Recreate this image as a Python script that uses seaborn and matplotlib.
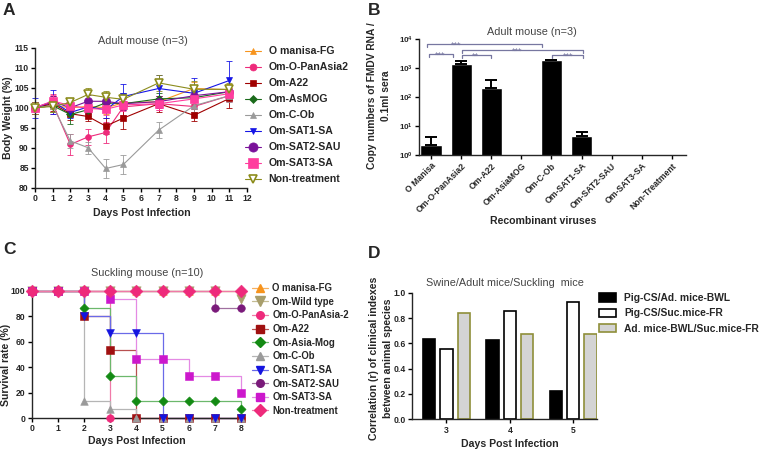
import numpy as np
import pandas as pd
import matplotlib
matplotlib.use("Agg")
import matplotlib.pyplot as plt
import seaborn as sns
from matplotlib.lines import Line2D
from matplotlib.patches import Patch
from matplotlib.ticker import NullLocator, FixedLocator, FixedFormatter

# ---------------- Panel A data (body weight, adult mouse) ----------------
days_a = [0, 1, 2, 3, 4, 5, 7, 9, 11]
a_labels = ["O manisa-FG", "Om-O-PanAsia2", "Om-A22", "Om-AsMOG", "Om-C-Ob",
            "Om-SAT1-SA", "Om-SAT2-SAU", "Om-SAT3-SA", "Non-treatment"]
a_omanisa = [100, 100.5, 100, 100.3, 100, 101.2, 101.5, 104.8, 104.5]
a_panasia = [100, 101, 90.8, 92.7, 93.8, 100.2, 101, 100.3, 103]
a_a22 = [100, 101, 98.5, 97.8, 95.4, 97.4, 101, 98.1, 102.3]
a_asmog = [100, 100.5, 98.3, 99.5, 101.2, 101, 102.2, 102.5, 104]
a_cob = [100, 100.5, 91.7, 90.0, 84.8, 85.8, 94.4, 100.5, 103]
a_sat1 = [100, 101.5, 98.8, 100.2, 99.5, 102.8, 104.8, 103.6, 106.8]
a_sat2 = [100, 101.5, 100, 101.6, 101.6, 101, 101.5, 103, 104]
a_sat3 = [100, 101.7, 100.5, 99.8, 99.6, 100.7, 101, 102.2, 103.5]
a_nontreat = [100, 100.3, 101.3, 103.3, 102.6, 102.1, 106.2, 104.6, 104.6]

a_omanisa_err = [1.5, 1.5, 1.5, 1.5, 1.5, 1.5, 1.5, 1.5, 1.5]
a_panasia_err = [1.5, 2.5, 2.7, 2.0, 2.6, 2.0, 1.5, 1.5, 1.5]
a_a22_err = [1.5, 1.8, 1.5, 1.2, 2.0, 2.8, 2.0, 1.5, 2.5]
a_asmog_err = [1.5, 1.5, 2.5, 1.5, 1.5, 1.5, 1.5, 1.5, 1.5]
a_cob_err = [1.5, 1.5, 1.8, 1.5, 2.3, 2.4, 2.1, 1.5, 1.5]
a_sat1_err = [2.5, 3.0, 1.5, 1.5, 2.0, 3.2, 3.3, 3.8, 4.8]
a_sat2_err = [1.5, 1.5, 1.5, 1.5, 1.5, 1.5, 1.5, 1.5, 1.5]
a_sat3_err = [1.5, 1.5, 1.5, 1.5, 1.5, 1.5, 1.5, 1.5, 1.5]
a_nontreat_err = [1.5, 1.5, 1.2, 1.5, 1.5, 1.5, 2.0, 2.0, 1.5]

# ---------------- Panel B data (FMDV RNA copies) ----------------
b_cats = ["O Manisa", "Om-O-PanAsia2", "Om-A22", "Om-AsiaMOG", "Om-C-Ob",
          "Om-SAT1-SA", "Om-SAT2-SAU", "Om-SAT3-SA", "Non-Treatment"]
b_vals = [2.2, 1410, 208, 0, 1940, 4.4, 0, 0, 0]
b_errs = [2.1, 330, 175, 0, 60, 2.0, 0, 0, 0]
b_tick_labels = ["$\\mathbf{10^{0}}$", "$\\mathbf{10^{1}}$", "$\\mathbf{10^{2}}$",
                 "$\\mathbf{10^{3}}$", "$\\mathbf{10^{4}}$"]
# significance brackets: (x1, x2, log10 line, log10 end, text x, label)
b_brackets = [(-0.14, 3.68, 3.841, 3.727, 0.83, "***"),
              (1.02, 5.06, 3.633, 3.519, 2.85, "***"),
              (-0.07, 0.72, 3.484, 3.381, 0.30, "***"),
              (1.02, 1.99, 3.460, 3.346, 1.46, "**"),
              (4.01, 5.06, 3.460, 3.346, 4.56, "***")]

# ---------------- Panel C data (survival, suckling mouse) ----------------
days_c = [0, 1, 2, 3, 4, 5, 6, 7, 8]
c_labels = ["O manisa-FG", "Om-Wild type", "Om-O-PanAsia-2", "Om-A22", "Om-Asia-Mog",
            "Om-C-Ob", "Om-SAT1-SA", "Om-SAT2-SAU", "Om-SAT3-SA", "Non-treatment"]
c_omanisa = [100, 100, 100, 100, 100, 100, 100, 100, 100]
c_wild = [100, 100, 100, 100, 100, 100, 100, 100, 93.3]
c_panasia = [100, 100, 100, 0, 0, 0, 0, 0, 0]
c_a22 = [100, 100, 80, 53.3, 0, 0, 0, 0, 0]
c_asiamog = [100, 100, 86.7, 33.3, 13.3, 13.3, 13.3, 13.3, 6.7]
c_cob = [100, 100, 13.3, 6.7, 0, 0, 0, 0, 0]
c_sat1 = [100, 100, 80, 66.7, 66.7, 0, 0, 0, 0]
c_sat2 = [100, 100, 100, 100, 100, 100, 100, 86.7, 86.7]
c_sat3 = [100, 100, 100, 93.3, 46.7, 46.7, 33.3, 33.3, 20]
c_nontreat = [100, 100, 100, 100, 100, 100, 100, 100, 100]

# ---------------- Panel D data (correlation) ----------------
d_days = ["3", "4", "5"]
d_pairs = ["Pig-CS/Ad. mice-BWL", "Pig-CS/Suc.mice-FR", "Ad. mice-BWL/Suc.mice-FR"]
d_pig_adult = [0.637, 0.624, 0.224]
d_pig_suck = [0.555, 0.853, 0.926]
d_adult_suck = [0.837, 0.676, 0.676]

# ---------------- styling ----------------
sns.set_theme(style="ticks")
plt.rcParams['font.family'] = ['Liberation Sans', 'DejaVu Sans']
plt.rcParams['mathtext.fontset'] = 'custom'
plt.rcParams['mathtext.rm'] = 'Liberation Sans'
plt.rcParams['mathtext.bf'] = 'Liberation Sans:bold'
plt.rcParams['axes.linewidth'] = 1.0
plt.rcParams['xtick.major.width'] = 1.0
plt.rcParams['ytick.major.width'] = 1.0
plt.rcParams['xtick.major.size'] = 3
plt.rcParams['ytick.major.size'] = 3

TICK_FS = 6.2
LAB_FS = 7.6
TITLE_FS = 7.8
TITLE_C = '#444444'

fig = plt.figure(figsize=(7.6, 4.5), dpi=100)


def style_ticks(ax):
    for t in ax.get_xticklabels() + ax.get_yticklabels():
        t.set_fontsize(TICK_FS)
        t.set_fontweight('bold')
    ax.tick_params(axis='both', pad=1.5, length=3, color='black')
    sns.despine(ax=ax)


# ================= Panel A =================
axA = fig.add_axes([0.0461, 0.5829, 0.2789, 0.3111])
a_means = [a_omanisa, a_panasia, a_a22, a_asmog, a_cob, a_sat1, a_sat2, a_sat3, a_nontreat]
a_errs = [a_omanisa_err, a_panasia_err, a_a22_err, a_asmog_err, a_cob_err,
          a_sat1_err, a_sat2_err, a_sat3_err, a_nontreat_err]
a_styles = [('#F7941D', '^', 4.2, True), ('#EE2A7B', 'o', 4.2, True), ('#A00000', 's', 4.0, True),
            ('#1B6B1B', 'D', 3.6, True), ('#9A9A9A', '^', 4.2, True), ('#1515E6', 'v', 4.2, True),
            ('#7A129A', 'o', 5.8, True), ('#FF3D9E', 's', 5.8, True), ('#8C8C1C', 'v', 5.5, False)]
a_handles = []
for lab, mean, err, (col, mk, ms, fill) in zip(a_labels, a_means, a_errs, a_styles):
    axA.errorbar(days_a, mean, yerr=err, fmt='none', ecolor=col, elinewidth=0.7,
                 capsize=2.2, capthick=0.7, alpha=0.85, clip_on=False, zorder=2)
    df = pd.DataFrame({"day": days_a, "weight": mean})
    sns.lineplot(data=df, x="day", y="weight", ax=axA, color=col, marker=mk,
                 markersize=ms, linewidth=0.8, markeredgecolor=col,
                 markerfacecolor=col if fill else 'white',
                 markeredgewidth=1.2 if not fill else 0.5, clip_on=False, zorder=3)
    a_handles.append(Line2D([], [], color=col, marker=mk, markersize=ms + 0.8,
                            markerfacecolor=col if fill else 'white',
                            markeredgecolor=col, markeredgewidth=1.2 if not fill else 0.5,
                            linewidth=0.8))
axA.set_xlim(0, 12)
axA.set_ylim(80, 115)
axA.set_xticks(range(0, 13))
axA.set_yticks(range(80, 116, 5))
axA.set_xlabel("Days Post Infection", fontsize=LAB_FS, fontweight='bold')
axA.set_ylabel("Body Weight (%)", fontsize=LAB_FS, fontweight='bold')
axA.xaxis.set_label_coords(0.503, -0.147)
axA.yaxis.set_label_coords(-0.104, 0.5)
axA.text(0.51, 1.045, "Adult mouse (n=3)", transform=axA.transAxes, ha='center',
         va='center', fontsize=TITLE_FS, color=TITLE_C)
style_ticks(axA)
legA = axA.legend(a_handles, a_labels, loc='upper left', bbox_to_anchor=(0.992, 1.01),
                  frameon=False, fontsize=7.6, handlelength=1.5, handletextpad=0.7,
                  labelspacing=0.57, borderaxespad=0, borderpad=0)
for t in legA.get_texts():
    t.set_fontweight('bold')

# ================= Panel B =================
axB = fig.add_axes([0.5517, 0.6556, 0.3509, 0.2571])
dfB = pd.DataFrame({"virus": b_cats, "copies": b_vals})
sns.barplot(data=dfB, x="virus", y="copies", ax=axB, color='black', saturation=1,
            width=0.7, errorbar=None, order=b_cats)
axB.set_yscale('log')
pos_idx = [i for i, v in enumerate(b_vals) if v > 0]
axB.errorbar([i for i in pos_idx], [b_vals[i] for i in pos_idx],
             yerr=[[0] * len(pos_idx), [b_errs[i] for i in pos_idx]], fmt='none',
             ecolor='black', elinewidth=1.4, capsize=4, capthick=1.4)
axB.set_ylim(1, 1e4)
axB.set_xlim(-0.39, 8.47)
axB.yaxis.set_major_locator(FixedLocator([1, 10, 100, 1000, 10000]))
axB.yaxis.set_major_formatter(FixedFormatter(b_tick_labels))
axB.yaxis.set_minor_locator(NullLocator())
axB.set_xticks(range(len(b_cats)))
axB.set_xticklabels(b_cats, rotation=45, ha='right', rotation_mode='anchor')
style_ticks(axB)
for t in axB.get_yticklabels():
    t.set_fontsize(5.8)
br_col = '#7777A0'
for x1, x2, ly, ey, tx, lab in b_brackets:
    axB.plot([x1, x1, x2, x2], [10 ** ey, 10 ** ly, 10 ** ly, 10 ** ey], color=br_col,
             linewidth=0.9, clip_on=False)
    axB.text(tx, 10 ** (ly - 0.12), lab, ha='center', va='baseline', fontsize=6.5,
             color=br_col, clip_on=False)
axB.set_xlabel("Recombinant viruses", fontsize=LAB_FS, fontweight='bold')
axB.set_ylabel("Copy numbers of FMDV RNA /\n0.1ml sera", fontsize=7.4, fontweight='bold',
               linespacing=1.5)
axB.xaxis.set_label_coords(0.464, -0.527)
axB.yaxis.set_label_coords(-0.106, 0.51)
axB.text(0.421, 1.066, "Adult mouse (n=3)", transform=axB.transAxes, ha='center',
         va='center', fontsize=TITLE_FS, color=TITLE_C)

# ================= Panel C =================
axC = fig.add_axes([0.0417, 0.0711, 0.2754, 0.2829])
c_series = [c_omanisa, c_wild, c_panasia, c_a22, c_asiamog, c_cob, c_sat1, c_sat2,
            c_sat3, c_nontreat]
c_styles = [('#F7941D', '#F7B060', '^', 30), ('#A89E6C', '#C4BC94', 'v', 45),
            ('#EE2A7B', '#F07AA8', 'o', 30), ('#A01010', '#B85050', 's', 30),
            ('#138A13', '#6CB86C', 'D', 22), ('#9A9A9A', '#B5B5B5', '^', 30),
            ('#1414E0', '#6A6AE8', 'v', 32), ('#7A1A7A', '#A070A0', 'o', 30),
            ('#CC18CC', '#E48AE4', 's', 34), ('#EE2A7B', '#F07AA8', 'D', 42)]
c_handles = []
for lab, vals, (mcol, lcol, mk, ms) in zip(c_labels, c_series, c_styles):
    df = pd.DataFrame({"day": days_c, "surv": vals})
    sns.lineplot(data=df, x="day", y="surv", ax=axC, color=lcol, linewidth=0.9,
                 drawstyle='steps-post', clip_on=False, zorder=2)
    sns.scatterplot(data=df, x="day", y="surv", ax=axC, color=mcol, marker=mk, s=ms,
                    edgecolor=mcol, linewidth=0.4, clip_on=False, zorder=3)
    c_handles.append(Line2D([], [], color=lcol, marker=mk, markersize=np.sqrt(ms),
                            markerfacecolor=mcol, markeredgecolor=mcol, linewidth=0.9))
axC.set_xlim(0, 8)
axC.set_ylim(0, 100)
axC.set_xticks(range(0, 9))
axC.set_yticks(range(0, 101, 20))
axC.set_xlabel("Days Post Infection", fontsize=LAB_FS, fontweight='bold')
axC.set_ylabel("Survival rate (%)", fontsize=LAB_FS, fontweight='bold')
axC.xaxis.set_label_coords(0.5, -0.139)
axC.yaxis.set_label_coords(-0.101, 0.42)
axC.text(0.55, 1.141, "Suckling mouse (n=10)", transform=axC.transAxes, ha='center',
         va='center', fontsize=TITLE_FS, color=TITLE_C)
style_ticks(axC)
legC = axC.legend(c_handles, c_labels, loc='upper left', bbox_to_anchor=(1.054, 1.06),
                  frameon=False, fontsize=6.9, handlelength=1.6, handletextpad=0.5,
                  labelspacing=0.38, borderaxespad=0, borderpad=0)
for t in legC.get_texts():
    t.set_fontweight('bold')

# ================= Panel D =================
axD = fig.add_axes([0.5417, 0.0682, 0.2442, 0.2813])
dfD = pd.DataFrame({
    "day": d_days * 3,
    "r": d_pig_adult + d_pig_suck + d_adult_suck,
    "pair": [d_pairs[0]] * 3 + [d_pairs[1]] * 3 + [d_pairs[2]] * 3,
})
d_fill = ['black', 'white', '#D4D4D4']
d_edge = ['black', 'black', '#8F8F3A']
sns.barplot(data=dfD, x="day", y="r", hue="pair", hue_order=d_pairs, order=d_days,
            palette=d_fill, saturation=1, width=0.822, gap=0.29, errorbar=None,
            linewidth=1.2, ax=axD)
for cont, ec in zip(axD.containers, d_edge):
    for p in cont:
        p.set_edgecolor(ec)
        p.set_linewidth(1.2)
axD.set_xlim(-0.547, 2.38)
axD.set_ylim(0, 1.0)
axD.set_yticks(np.arange(0, 1.01, 0.2))
axD.set_yticklabels([f"{v:.1f}" for v in np.arange(0, 1.01, 0.2)])
axD.set_xlabel("Days Post Infection", fontsize=LAB_FS, fontweight='bold')
axD.set_ylabel("Correlation (r) of clinical indexes\nbetween animal species", fontsize=LAB_FS,
               fontweight='bold', linespacing=1.5)
axD.xaxis.set_label_coords(0.53, -0.156)
axD.yaxis.set_label_coords(-0.102, 0.484)
axD.text(0.5, 1.074, "Swine/Adult mice/Suckling  mice", transform=axD.transAxes,
         ha='center', va='center', fontsize=TITLE_FS, color=TITLE_C)
style_ticks(axD)
d_handles = [Patch(facecolor=f, edgecolor=e, linewidth=1.2) for f, e in zip(d_fill, d_edge)]
legD = axD.legend(d_handles, d_pairs, loc='upper left', bbox_to_anchor=(1.01, 0.995),
                  frameon=False, fontsize=7.35, handlelength=1.65, handleheight=0.95,
                  handletextpad=0.8, labelspacing=0.5, borderaxespad=0, borderpad=0)
for t in legD.get_texts():
    t.set_fontweight('bold')

# ================= panel letters =================
for lab, x, y in [("A", 0.004, 0.993), ("B", 0.484, 0.993), ("C", 0.004, 0.462),
                  ("D", 0.484, 0.453)]:
    fig.text(x, y, lab, fontsize=12.5, fontweight='bold', ha='left', va='top')

fig.savefig("out.png", dpi=100)
